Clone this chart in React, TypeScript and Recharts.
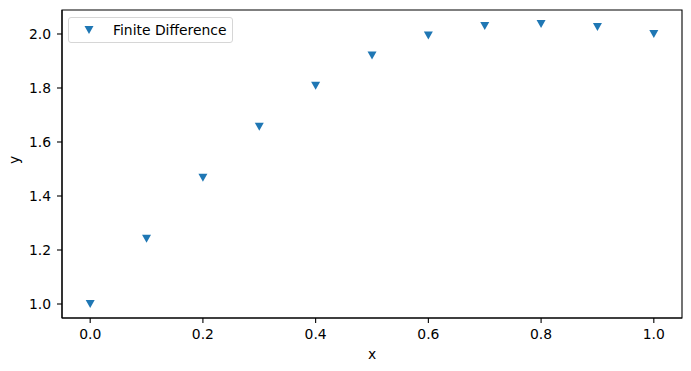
import React from 'react';
import {
  ScatterChart, Scatter, XAxis, YAxis, ReferenceArea, Label,
} from 'recharts';

const xValues = [0.0, 0.1, 0.2, 0.3, 0.4, 0.5, 0.6, 0.7, 0.8, 0.9, 1.0];
const finiteDiff = [1.0, 1.242, 1.468, 1.656, 1.808, 1.92, 1.994, 2.03, 2.037, 2.026, 2.0];
const xTicks = [0.0, 0.2, 0.4, 0.6, 0.8, 1.0];
const yTicks = [1.0, 1.2, 1.4, 1.6, 1.8, 2.0];

const data = xValues.map((x, i) => ({ x, y: finiteDiff[i] }));

// matplotlib-style 5% margins
const xPad = (Math.max(...xValues) - Math.min(...xValues)) * 0.05;
const yPad = (Math.max(...finiteDiff) - Math.min(...finiteDiff)) * 0.05;
const xDomain = [Math.min(...xValues) - xPad, Math.max(...xValues) + xPad];
const yDomain = [Math.min(...finiteDiff) - yPad, Math.max(...finiteDiff) + yPad];

const BLUE = '#1f77b4';
const FONT = '"DejaVu Sans", sans-serif';

const TriangleDown = (props: any) => {
  const { cx, cy } = props;
  if (cx == null || cy == null) return null;
  return (
    <path
      d={`M${cx - 4.5},${cy - 4} L${cx + 4.5},${cy - 4} L${cx},${cy + 4} Z`}
      fill={BLUE}
    />
  );
};

export default function App() {
  return (
    <div style={{ position: 'absolute', left: 0, top: 0, width: 691, height: 371, background: '#fff' }}>
      <ScatterChart
        width={691}
        height={371}
        margin={{ top: 10, right: 9, bottom: 0, left: 0 }}
        style={{ fontFamily: FONT }}
      >
        <XAxis
          type="number"
          dataKey="x"
          domain={xDomain}
          ticks={xTicks}
          tickFormatter={(v: number) => v.toFixed(1)}
          height={53}
          tickSize={5}
          tickMargin={6}
          axisLine={{ stroke: '#000', strokeWidth: 1.1 }}
          tickLine={{ stroke: '#000', strokeWidth: 1.1 }}
          tick={{ fill: '#000', fontSize: 13.9, fontFamily: FONT }}
          allowDataOverflow
        >
          <Label value="x" position="insideBottom" offset={12} fill="#000" fontSize={13.9} fontFamily={FONT} />
        </XAxis>
        <YAxis
          type="number"
          dataKey="y"
          domain={yDomain}
          ticks={yTicks}
          tickFormatter={(v: number) => v.toFixed(1)}
          width={62}
          tickSize={5}
          tickMargin={6}
          axisLine={{ stroke: '#000', strokeWidth: 1.1 }}
          tickLine={{ stroke: '#000', strokeWidth: 1.1 }}
          tick={{ fill: '#000', fontSize: 13.9, fontFamily: FONT }}
          allowDataOverflow
        >
          <Label value="y" angle={-90} position="insideLeft" offset={14} fill="#000" fontSize={13.9} fontFamily={FONT} />
        </YAxis>
        <ReferenceArea
          x1={xDomain[0]}
          x2={xDomain[1]}
          y1={yDomain[0]}
          y2={yDomain[1]}
          fill="none"
          stroke="#000"
          strokeWidth={1.1}
          ifOverflow="visible"
        />
        <Scatter
          name="Finite Difference"
          data={data}
          fill={BLUE}
          shape={<TriangleDown />}
          isAnimationActive={false}
        />
      </ScatterChart>

      {/* legend, upper left like matplotlib's loc="best" */}
      <div
        style={{
          position: 'absolute',
          left: 68,
          top: 17,
          width: 165,
          height: 26,
          border: '1px solid #d6d6d6',
          borderRadius: 3,
          background: 'rgba(255,255,255,0.8)',
          display: 'flex',
          alignItems: 'center',
          fontFamily: FONT,
          fontSize: 13.9,
          color: '#000',
          boxSizing: 'border-box',
        }}
      >
        <svg width={44} height={24} style={{ flex: 'none' }}>
          <path d="M15.5,8 L24.5,8 L20,16 Z" fill={BLUE} />
        </svg>
        <span>Finite Difference</span>
      </div>
    </div>
  );
}
